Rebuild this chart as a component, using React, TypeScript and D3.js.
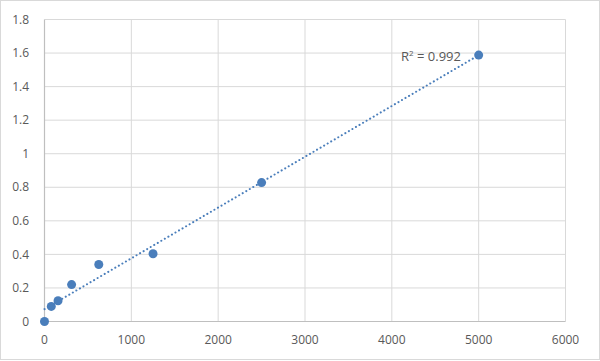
import React from "react";
import * as d3 from "d3";

const xValues = [0, 78, 156, 312, 625, 1250, 2500, 5000];
const yValues = [0, 0.09, 0.124, 0.22, 0.34, 0.404, 0.828, 1.588];
const xTicks = [0, 1000, 2000, 3000, 4000, 5000, 6000];
const yTicks = [0, 0.2, 0.4, 0.6, 0.8, 1, 1.2, 1.4, 1.6, 1.8];
const r2Label = "0.992";

export default function App() {
  const W = 600, H = 361;
  const x = d3.scaleLinear().domain([0, 6000]).range([44.5, 565.5]);
  const y = d3.scaleLinear().domain([0, 1.8]).range([321.5, 19.5]);
  const n = xValues.length;
  const mx = d3.mean(xValues)!, my = d3.mean(yValues)!;
  let sxy = 0, sxx = 0;
  for (let i = 0; i < n; i++) {
    sxy += (xValues[i] - mx) * (yValues[i] - my);
    sxx += (xValues[i] - mx) ** 2;
  }
  const slope = sxy / sxx;
  const icpt = my - slope * mx;
  const trendX = [0, 5000];
  const line = d3.line<number>().x((d) => x(d)).y((d) => y(icpt + slope * d));
  const font = "'Open Sans', 'Liberation Sans', sans-serif";
  const grey = "#595959";
  return (
    <svg width={W} height={H} style={{ position: "absolute", left: 0, top: 0 }}>
      <rect x={0.5} y={0.5} width={W - 1} height={H - 2} fill="#fff" stroke="#d9d9d9" />
      {xTicks.slice(1).map((t) => (
        <line key={"gx" + t} x1={x(t)} x2={x(t)} y1={y(1.8)} y2={y(0)} stroke="#d9d9d9" strokeWidth={1} />
      ))}
      {yTicks.slice(1).map((t) => (
        <line key={"gy" + t} x1={x(0)} x2={x(6000)} y1={y(t)} y2={y(t)} stroke="#d9d9d9" strokeWidth={1} />
      ))}
      <line x1={x(0)} x2={x(0)} y1={y(1.8)} y2={y(0)} stroke="#bfbfbf" strokeWidth={1.2} />
      <line x1={x(0)} x2={x(6000)} y1={y(0)} y2={y(0)} stroke="#bfbfbf" strokeWidth={1.2} />
      {yTicks.map((t) => (
        <text key={"ty" + t} x={29} y={y(t)} dy="0.35em" textAnchor="end" fontSize={12} fill={grey} fontFamily={font}>
          {d3.format("~g")(t)}
        </text>
      ))}
      {xTicks.map((t) => (
        <text key={"tx" + t} x={x(t)} y={340} dy="0.35em" textAnchor="middle" fontSize={12} fill={grey} fontFamily={font}>
          {t}
        </text>
      ))}
      <path d={line(trendX)!} fill="none" stroke="#4a7ebb" strokeWidth={2} strokeDasharray="0.1 4" strokeLinecap="round" />
      {xValues.map((xv, i) => (
        <circle key={"p" + i} cx={x(xv)} cy={y(yValues[i])} r={4.5} fill="#4a7ebb" />
      ))}
      <text x={401} y={56} dy="0.35em" fontSize={13} fill={grey} fontFamily={font}>
        R<tspan dy="-5" fontSize={8}>2</tspan>
        <tspan dy="5"> = {r2Label}</tspan>
      </text>
    </svg>
  );
}
